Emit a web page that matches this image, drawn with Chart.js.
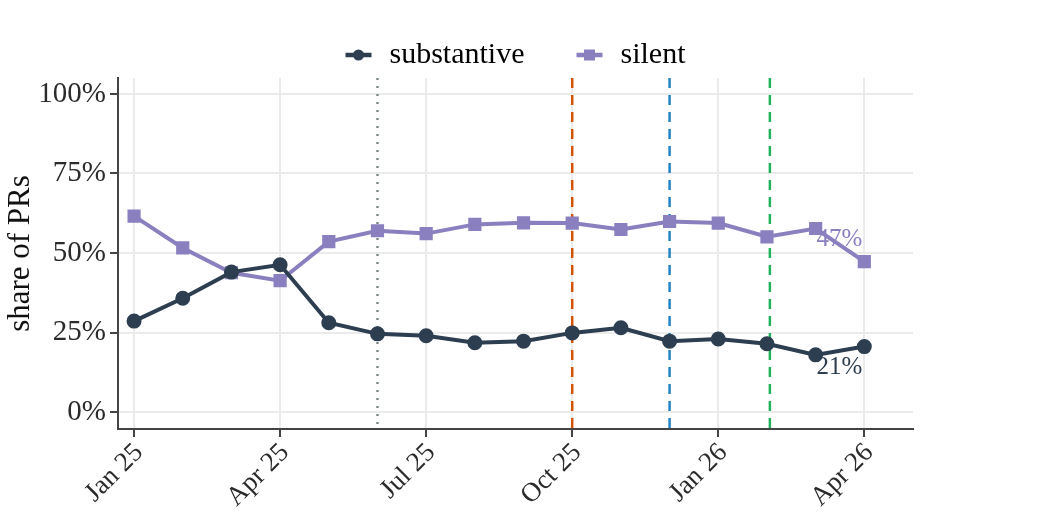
<!DOCTYPE html>
<html>
<head>
<meta charset="utf-8">
<script src="https://cdn.jsdelivr.net/npm/chart.js@4"></script>
<style>
  html, body { margin: 0; padding: 0; background: #fff; }
  #wrap { width: 1046px; height: 519px; }
</style>
</head>
<body>
<div id="wrap"><canvas id="PrChart" width="1046" height="519"></canvas></div>
<script>
const months = ['Jan 25','Feb 25','Mar 25','Apr 25','May 25','Jun 25','Jul 25','Aug 25',
                'Sep 25','Oct 25','Nov 25','Dec 25','Jan 26','Feb 26','Mar 26','Apr 26'];
const substantive = [28.6, 35.8, 44.0, 46.3, 28.1, 24.6, 24.0, 21.8, 22.3, 24.9, 26.5, 22.3, 23.0, 21.5, 18.0, 20.6];
const silent      = [61.6, 51.6, 43.8, 41.3, 53.6, 57.0, 56.1, 59.0, 59.5, 59.4, 57.4, 59.9, 59.4, 55.1, 57.7, 47.3];
const tickIdx = [0, 3, 6, 9, 12, 15];
const yTicks = [0, 25, 50, 75, 100];
// event markers (month index, colour, dash)
const eventIdx   = [5, 9, 11, 13.06];
const eventColor = ['#808b8c', '#d35400', '#2383c4', '#22b25c'];
const eventDash  = [[2, 6], [10, 7], [10, 7], [10, 7]];

const darkCol = '#2c3e50';
const purpleCol = '#8a7fbf';
const serif = "'Liberation Serif', 'DejaVu Serif', serif";

const eventsPlugin = {
    id: 'events',
    beforeDatasetsDraw(chart) {
        const ctx = chart.ctx, xs = chart.scales.x, area = chart.chartArea;
        ctx.save();
        eventIdx.forEach((v, i) => {
            const x = xs.getPixelForValue(v);
            ctx.strokeStyle = eventColor[i];
            ctx.lineWidth = 2.5;
            ctx.setLineDash(eventDash[i]);
            ctx.beginPath();
            ctx.moveTo(x, area.top);
            ctx.lineTo(x, area.bottom);
            ctx.stroke();
        });
        ctx.restore();
    }
};

const endLabelPlugin = {
    id: 'endLabels',
    afterDatasetsDraw(chart) {
        const ctx = chart.ctx;
        ctx.save();
        ctx.font = '25px ' + serif;
        ctx.textAlign = 'center';
        ctx.textBaseline = 'middle';
        const offs = [21, -22];
        chart.data.datasets.forEach((ds, i) => {
            const meta = chart.getDatasetMeta(i);
            const last = ds.data[ds.data.length - 1];
            const pt = meta.data[meta.data.length - 1];
            ctx.fillStyle = ds.borderColor;
            ctx.fillText(Math.round(last.y) + '%', pt.x - 25, pt.y + offs[i]);
        });
        ctx.restore();
    }
};

const legendPlugin = {
    id: 'customLegend',
    afterDraw(chart) {
        const ctx = chart.ctx, area = chart.chartArea;
        ctx.save();
        ctx.font = '30px ' + serif;
        const items = chart.data.datasets.map(ds => ({ ds, w: ctx.measureText(ds.label).width }));
        const keyW = 26, keyGap = 18, itemGap = 52;
        let total = 0;
        items.forEach((it, i) => { total += keyW + keyGap + it.w + (i ? itemGap : 0); });
        let x = (area.left + area.right) / 2 - total / 2;
        const y = 55;
        items.forEach(it => {
            ctx.strokeStyle = it.ds.borderColor;
            ctx.fillStyle = it.ds.borderColor;
            ctx.lineWidth = 4.5;
            ctx.beginPath();
            ctx.moveTo(x, y);
            ctx.lineTo(x + keyW, y);
            ctx.stroke();
            const cx = x + keyW / 2;
            if (it.ds.pointStyle === 'rect') {
                ctx.fillRect(cx - 5.5, y - 5.5, 11, 11);
            } else {
                ctx.beginPath();
                ctx.arc(cx, y, 5.5, 0, Math.PI * 2);
                ctx.fill();
            }
            ctx.fillStyle = '#000';
            ctx.textBaseline = 'middle';
            ctx.fillText(it.ds.label, x + keyW + keyGap, y);
            x += keyW + keyGap + it.w + itemGap;
        });
        ctx.restore();
    }
};

const config = {
    type: 'line',
    data: {
        datasets: [{
            label: 'substantive',
            data: substantive.map((v, i) => ({ x: i, y: v })),
            borderColor: darkCol,
            backgroundColor: darkCol,
            borderWidth: 4,
            pointStyle: 'circle',
            pointRadius: 5.5,
            tension: 0
        }, {
            label: 'silent',
            data: silent.map((v, i) => ({ x: i, y: v })),
            borderColor: purpleCol,
            backgroundColor: purpleCol,
            borderWidth: 4,
            pointStyle: 'rect',
            pointRadius: 6.5,
            tension: 0
        }]
    },
    options: {
        responsive: false,
        animation: false,
        layout: { padding: { top: 78, right: 133, left: 0, bottom: 0 } },
        plugins: {
            legend: { display: false },
            tooltip: { enabled: false }
        },
        scales: {
            x: {
                type: 'linear',
                min: -0.33,
                max: 16.0,
                afterBuildTicks: s => { s.ticks = tickIdx.map(v => ({ value: v })); },
                afterFit: s => { s.height = 90; },
                ticks: {
                    callback: v => months[v],
                    minRotation: 45,
                    maxRotation: 45,
                    padding: 0,
                    labelOffset: 5,
                    color: '#2b2b2b',
                    font: { family: serif, size: 27 }
                },
                grid: { color: '#ebebeb', lineWidth: 2, tickLength: 8, tickColor: '#444', tickWidth: 2 },
                border: { color: '#444', width: 2 }
            },
            y: {
                min: -5.3,
                max: 105,
                afterBuildTicks: s => { s.ticks = yTicks.map(v => ({ value: v })); },
                afterFit: s => { s.width = 118; },
                ticks: {
                    callback: v => v + '%',
                    padding: 4,
                    color: '#2b2b2b',
                    font: { family: serif, size: 29 }
                },
                title: {
                    display: true,
                    text: 'share of PRs',
                    color: '#111',
                    padding: { top: 2, bottom: 0 },
                    font: { family: serif, size: 31 }
                },
                grid: { color: '#ebebeb', lineWidth: 2, tickLength: 8, tickColor: '#444', tickWidth: 2 },
                border: { color: '#444', width: 2 }
            }
        }
    },
    plugins: [eventsPlugin, endLabelPlugin, legendPlugin]
};

const chart1 = new Chart(document.getElementById('PrChart'), config);
</script>
</body>
</html>
